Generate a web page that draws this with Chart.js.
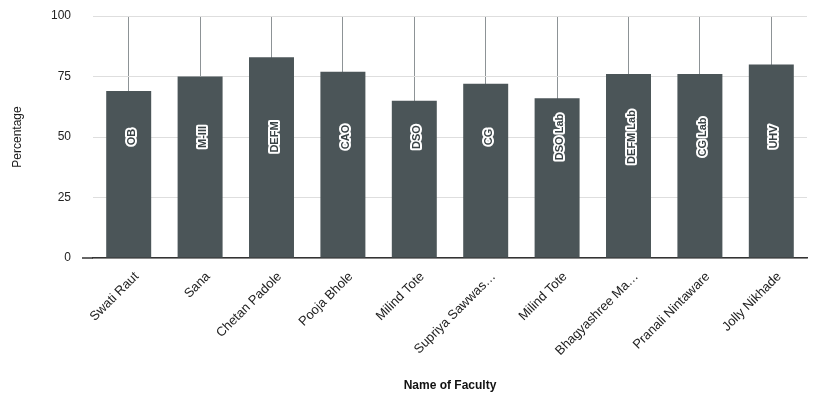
<!DOCTYPE html>
<html>
<head>
<meta charset="utf-8">
<script src="https://cdn.jsdelivr.net/npm/chart.js@4/dist/chart.umd.min.js"></script>
<style>
  html, body { margin: 0; padding: 0; background: #fff; }
  #wrap { width: 814px; height: 402px; }
</style>
</head>
<body>
<div id="wrap"><canvas id="chart" width="814" height="402"></canvas></div>
<script>
const facultyNames = ["Swati Raut", "Sana", "Chetan Padole", "Pooja Bhole", "Milind Tote",
  "Supriya Sawwas…", "Milind Tote", "Bhagyashree Ma…", "Pranali Nintaware", "Jolly Nikhade"];
const subjects = ["OB", "M-III", "DEFM", "CAO", "DSO", "CG", "DSO Lab", "DEFM Lab", "CG Lab", "UHV"];
const percentages = [69, 75, 83, 77, 65, 72, 66, 76, 76, 80];
const yTicks = [0, 25, 50, 75, 100];

const barColor = "#4b5558";
const fontFamily = '"Liberation Sans", Arial, sans-serif';

// subject names drawn sideways inside each bar, dark text with white halo
const subjectLabels = {
  id: "subjectLabels",
  afterDatasetsDraw(chart) {
    const meta = chart.getDatasetMeta(0);
    const yMid = chart.scales.y.getPixelForValue(50);
    const ctx = chart.ctx;
    ctx.save();
    ctx.font = "bold 11px " + fontFamily;
    ctx.textAlign = "center";
    ctx.textBaseline = "middle";
    ctx.lineJoin = "round";
    meta.data.forEach((bar, i) => {
      ctx.save();
      ctx.translate(bar.x + 3, yMid);
      ctx.rotate(-Math.PI / 2);
      ctx.lineWidth = 4;
      ctx.strokeStyle = "#ffffff";
      ctx.strokeText(subjects[i], 0, 0);
      ctx.fillStyle = "#3a4346";
      ctx.fillText(subjects[i], 0, 0);
      ctx.restore();
    });
    ctx.restore();
  }
};

// the baseline runs a little left of the first category, as in the original
const baselineExtend = {
  id: "baselineExtend",
  afterDraw(chart) {
    const a = chart.chartArea;
    const ctx = chart.ctx;
    ctx.save();
    ctx.strokeStyle = "#333333";
    ctx.lineWidth = 1.5;
    ctx.beginPath();
    ctx.moveTo(a.left - 11, a.bottom);
    ctx.lineTo(a.left, a.bottom);
    ctx.stroke();
    ctx.restore();
  }
};

new Chart(document.getElementById("chart"), {
  type: "bar",
  data: {
    labels: facultyNames,
    datasets: [{
      label: "Percentage",
      data: percentages,
      backgroundColor: barColor,
      borderWidth: 0,
      barPercentage: 0.63,
      categoryPercentage: 1
    }]
  },
  options: {
    responsive: false,
    animation: false,
    layout: { padding: { top: 16, right: 7, left: 0, bottom: 0 } },
    plugins: {
      legend: { display: false },
      tooltip: { enabled: false }
    },
    scales: {
      x: {
        offset: true,
        grid: { display: true, offset: false, color: "#8d9396", lineWidth: 1, drawTicks: false },
        border: { display: true, color: "#333333", width: 1.5 },
        ticks: {
          autoSkip: false,
          minRotation: 45,
          maxRotation: 45,
          padding: 11,
          labelOffset: 8,
          color: "#222",
          font: { family: fontFamily, size: 13 }
        },
        title: {
          display: true,
          text: "Name of Faculty",
          color: "#111",
          font: { family: fontFamily, size: 12, weight: "bold" },
          padding: { top: 4, bottom: 9 }
        },
        afterFit(scale) {
          scale.height = 144;
          scale.paddingLeft = 0;
          scale.paddingRight = 0;
        }
      },
      y: {
        min: 0,
        max: 100,
        afterBuildTicks(scale) { scale.ticks = yTicks.map(v => ({ value: v })); },
        grid: { color: "#dedede", lineWidth: 1, drawTicks: false },
        border: { display: false },
        ticks: {
          padding: 22,
          color: "#222",
          font: { family: fontFamily, size: 12 }
        },
        title: {
          display: true,
          text: "Percentage",
          color: "#1a1a1a",
          font: { family: fontFamily, size: 12 },
          padding: { top: 10, bottom: 0 }
        },
        afterFit(scale) {
          scale.width = 93;
          scale.paddingTop = 0;
          scale.paddingBottom = 0;
        }
      }
    }
  },
  plugins: [subjectLabels, baselineExtend]
});
</script>
</body>
</html>
